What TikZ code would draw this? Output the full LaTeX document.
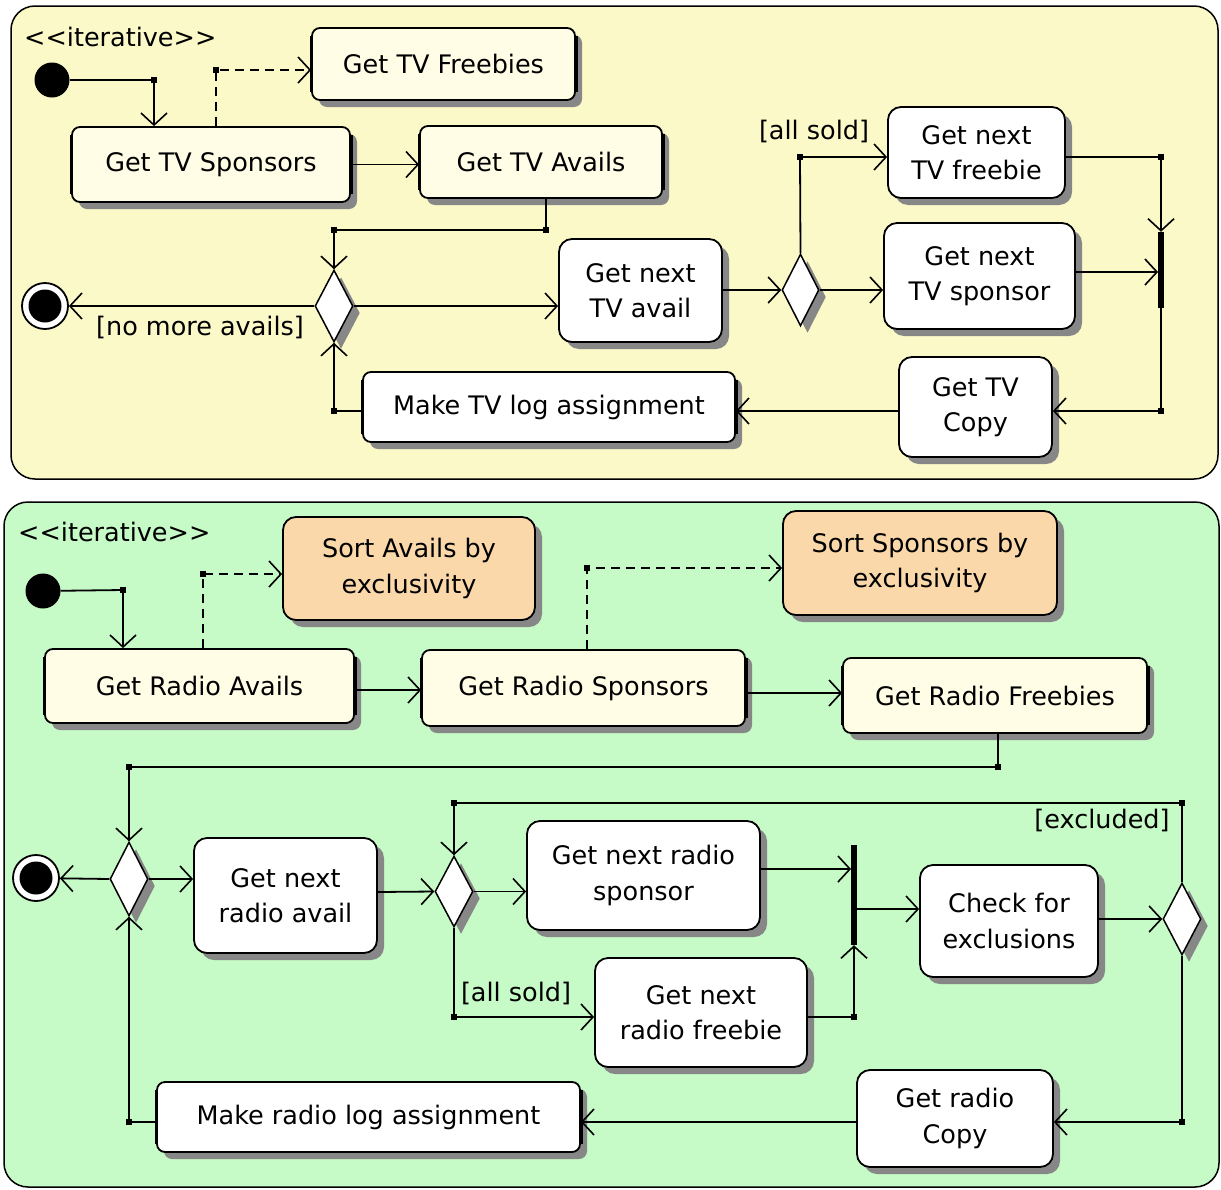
\documentclass[tikz,border=0pt]{standalone}
\usepackage{fontspec}
\setmainfont{DejaVu Sans}
\usetikzlibrary{arrows.meta,shapes.geometric,shadows,calc}

\definecolor{tvpanel}{RGB}{252,249,200}
\definecolor{radiopanel}{RGB}{198,250,198}
\definecolor{structfill}{RGB}{255,253,230}
\definecolor{sortfill}{RGB}{250,216,170}
\definecolor{shadegray}{RGB}{135,135,135}

\tikzset{
  wh/.style n args={2}{minimum width=#1pt, minimum height=#2pt},
  shadowed/.style={general shadow={fill=shadegray, shadow xshift=7pt, shadow yshift=-7pt}},
  action/.style={draw, line width=1.8pt, rounded corners=13pt, fill=white,
    align=center, inner sep=0pt, shadowed},
  region/.style={action, rounded corners=8pt, fill=structfill},
  sortbox/.style={action, fill=sortfill},
  decision/.style={diamond, draw, line width=1.5pt, fill=white, inner sep=0pt, shadowed},
  startnode/.style={circle, fill=black, minimum size=35pt, inner sep=0pt},
  endnode/.style={circle, draw, line width=1.8pt, fill=white, minimum size=46pt, inner sep=0pt},
  syncbar/.style={rectangle, fill=black, minimum width=5.5pt, inner sep=0pt},
  guard/.style={inner sep=0pt},
  flow/.style={line width=1.8pt, -{Straight Barb[length=12pt,width=26pt,line width=1.6pt]}},
  depend/.style={flow, dash pattern=on 9pt off 6pt},
  panel/.style={draw, line width=1.5pt, rounded corners=24pt},
}

\begin{document}
\begin{tikzpicture}[x=1pt,y=-1pt, font=\fontsize{25.5}{35.5}\selectfont]
\useasboundingbox (0,0) rectangle (1221,1189);

% ---------------- TV panel ----------------
\draw[panel, fill=tvpanel] (11,6) rectangle (1218,479);
\node[anchor=west, inner sep=0pt] (tvtag) at (24,37) {<{}<iterative>{}>};

\node[startnode] (tvinit) at (52,80) {};
\node[region, wh={263}{72}] (tvfree) at (443.5,64) {Get TV Freebies};
\node[region, wh={278}{75}] (tvspons) at (211,164.5) {Get TV Sponsors};
\node[region, wh={242}{72}] (tvavails) at (541,162) {Get TV Avails};
\node[decision, wh={38}{72}] (d1) at (334,306) {};
\node[endnode] (tvfinal) at (45,306) {};
\fill (tvfinal.center) circle (16.5pt);
\node[guard] (nomore) at (200,327) {[no more avails]};
\node[action, wh={163}{103}] (nexttvav) at (640.5,290.5) {Get next\\TV avail};
\node[decision, wh={37}{72}] (d2) at (800.5,290) {};
\node[guard] (tvallsold) at (814,131) {[all sold]};
\node[action, wh={177}{91}] (tvfreebie) at (976.5,152.5) {Get next\\TV freebie};
\node[action, wh={191}{106}] (tvsponsor) at (979.5,276) {Get next\\TV sponsor};
\node[syncbar, minimum height=76pt] (tvjoin) at (1161,270) {};
\node[action, wh={153}{100}] (tvcopy) at (975.5,407) {Get TV\\Copy};
\node[region, fill=white, wh={372}{70}] (tvlog) at (549,407) {Make TV log assignment};

\coordinate (t0) at (154,80);
\coordinate (t1) at (216,70);
\coordinate (t2) at (546,230);
\coordinate (t3) at (334,230);
\coordinate (t4) at (800,157);
\coordinate (t5) at (1161,157);
\coordinate (t6) at (1161,411);
\coordinate (t7) at (334,411);
\coordinate (t8) at (0,272);

\draw[flow] (tvinit) -- (t0) -- (t0 |- tvspons.north);
\draw[depend] (t1 |- tvspons.north) -- (t1) -- (tvfree.west |- t1);
\draw[flow] (tvspons.east) -- (tvspons.east -| tvavails.west);
\draw[flow] (t2 |- tvavails.south) -- (t2) -- (t3) -- (d1.north);
\draw[flow] (d1.west) -- (tvfinal);
\draw[flow] (d1.east) -- (d1.east -| nexttvav.west);
\draw[flow] (nexttvav.east |- d2) -- (d2.west);
\draw[flow] (d2.north) -- (t4) -- (t4 -| tvfreebie.west);
\draw[flow] (d2.east) -- (d2.east -| tvsponsor.west);
\draw[flow] (tvsponsor.east |- t8) -- (tvjoin.west |- t8);
\draw[flow] (t5 -| tvfreebie.east) -- (t5) -- (tvjoin.north);
\draw[flow] (tvjoin.south) -- (t6) -- (t6 -| tvcopy.east);
\draw[flow] (t6 -| tvcopy.west) -- (t6 -| tvlog.east);
\draw[flow] (t7 -| tvlog.west) -- (t7) -- (d1.south);

% ---------------- Radio panel ----------------
\draw[panel, fill=radiopanel] (4,502) rectangle (1219,1187);
\node[anchor=west, inner sep=0pt] (rtag) at (18,532) {<{}<iterative>{}>};

\node[startnode] (rinit) at (43,591) {};
\node[region, wh={309}{74}] (ravails) at (199.5,686) {Get Radio Avails};
\node[sortbox, wh={252}{103}] (sortav) at (409,568.5) {Sort Avails by\\exclusivity};
\node[region, wh={323}{76}] (rsponsors) at (583.5,688) {Get Radio Sponsors};
\node[sortbox, wh={274}{104}] (sortsp) at (920,563) {Sort Sponsors by\\exclusivity};
\node[region, wh={304}{75}] (rfreebies) at (995,695.5) {Get Radio Freebies};
\node[decision, wh={38}{74}] (d3) at (129,879) {};
\node[endnode] (rfinal) at (36,878) {};
\fill (rfinal.center) circle (16.5pt);
\node[action, wh={183}{115}] (rnextav) at (285.5,895.5) {Get next\\radio avail};
\node[decision, wh={38}{71}] (d4) at (454,891.5) {};
\node[action, wh={233}{109}] (rnextsp) at (643.5,875.5) {Get next radio\\sponsor};
\node[guard] (rallsold) at (516,993) {[all sold]};
\node[action, wh={212}{109}] (rnextfr) at (701,1012.5) {Get next\\radio freebie};
\node[syncbar, minimum height=100pt] (rjoin) at (854,895) {};
\node[action, wh={178}{112}] (rcheck) at (1009,921) {Check for\\exclusions};
\node[decision, wh={38}{72}] (d5) at (1182,919) {};
\node[guard] (excluded) at (1102,820) {[excluded]};
\node[action, wh={196}{97}] (rcopy) at (955,1118.5) {Get radio\\Copy};
\node[region, fill=white, wh={423}{70}] (rlog) at (368.5,1117) {Make radio log assignment};

\coordinate (r0) at (123,590);
\coordinate (r1) at (203,574);
\coordinate (r2) at (0,690);
\coordinate (r3) at (587,568);
\coordinate (r4) at (0,693);
\coordinate (r5) at (998,767);
\coordinate (r6) at (129,767);
\coordinate (r7) at (0,892);
\coordinate (r8) at (454,1017);
\coordinate (r9) at (0,869);
\coordinate (r10) at (854,1017);
\coordinate (r11) at (0,909);
\coordinate (r12) at (1182,803);
\coordinate (r13) at (454,803);
\coordinate (r14) at (1182,1122);
\coordinate (r15) at (129,1122);

\draw[flow] (rinit) -- (r0) -- (r0 |- ravails.north);
\draw[depend] (r1 |- ravails.north) -- (r1) -- (r1 -| sortav.west);
\draw[flow] (ravails.east |- r2) -- (rsponsors.west |- r2);
\draw[depend] (r3 |- rsponsors.north) -- (r3) -- (r3 -| sortsp.west);
\draw[flow] (rsponsors.east |- r4) -- (rfreebies.west |- r4);
\draw[flow] (r5 |- rfreebies.south) -- (r5) -- (r6) -- (d3.north);
\draw[flow] (d3.west) -- (rfinal);
\draw[flow] (d3.east) -- (d3.east -| rnextav.west);
\draw[flow] (rnextav.east |- r7) -- (d4.west);
\draw[flow] (d4.east) -- (d4.east -| rnextsp.west);
\draw[flow] (d4.south) -- (r8) -- (r8 -| rnextfr.west);
\draw[flow] (rnextsp.east |- r9) -- (rjoin.west |- r9);
\draw[flow] (r10 -| rnextfr.east) -- (r10) -- (rjoin.south);
\draw[flow] (rjoin.east |- r11) -- (rcheck.west |- r11);
\draw[flow] (rcheck.east |- d5) -- (d5.west);
\draw[flow] (d5.north) -- (r12) -- (r13) -- (d4.north);
\draw[flow] (d5.south) -- (r14) -- (r14 -| rcopy.east);
\draw[flow] (r14 -| rcopy.west) -- (r14 -| rlog.east);
\draw[flow] (r15 -| rlog.west) -- (r15) -- (d3.south);

% thick side edges of the structured activity boxes
\foreach \n in {tvfree,tvspons,tvavails,tvlog,ravails,rsponsors,rfreebies,rlog} {
  \draw[line width=3.2pt] ([yshift=-9pt]\n.north west) -- ([yshift=9pt]\n.south west);
  \draw[line width=3.2pt] ([yshift=-9pt]\n.north east) -- ([yshift=9pt]\n.south east);
}

% junction dots
\foreach \p in {t0,t1,t2,t3,t4,t5,t6,t7,r0,r1,r3,r5,r6,r8,r10,r12,r13,r14,r15} {
  \fill ([shift={(-3.2pt,-3.2pt)}]\p) rectangle ([shift={(3.2pt,3.2pt)}]\p);
}
\end{tikzpicture}
\end{document}
